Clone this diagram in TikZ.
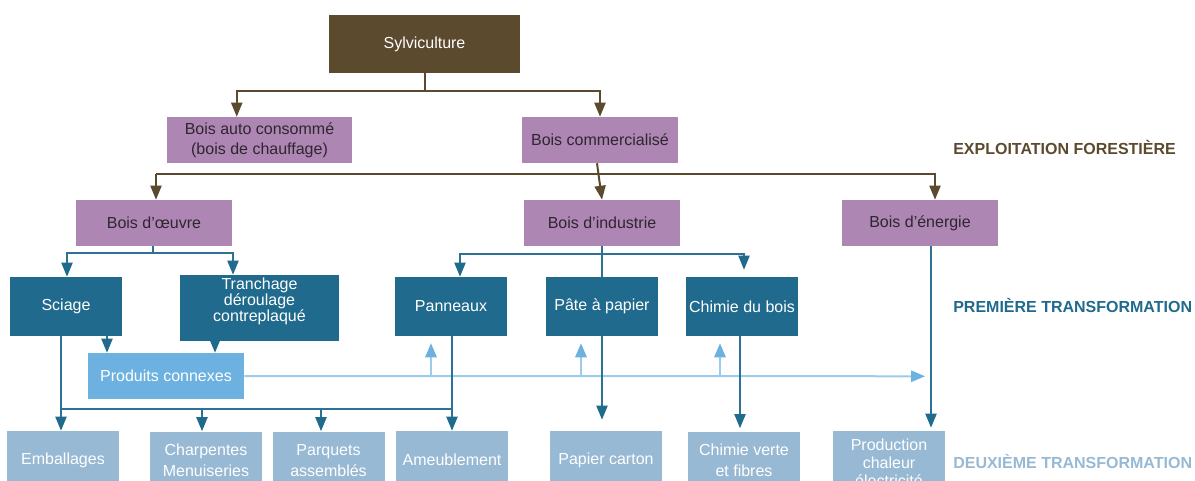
\documentclass[tikz,border=0pt]{standalone}
\usepackage{fontspec}
\setmainfont{Liberation Sans}
\usetikzlibrary{arrows.meta,calc}
\definecolor{brownc}{HTML}{5C4A2E}
\definecolor{purp}{HTML}{AE86B3}
\definecolor{ptext}{HTML}{2E2630}
\definecolor{tealc}{HTML}{1F6A8D}
\definecolor{tealline}{HTML}{2E7196}
\definecolor{lblue}{HTML}{6DB1E0}
\definecolor{lbline}{HTML}{9CCBEB}
\definecolor{bottomc}{HTML}{97B9D4}
\begin{document}
\begin{tikzpicture}[x=0.75pt,y=-0.75pt,
  every node/.style={font=\fontsize{12}{14}\selectfont, align=center, inner sep=0pt},
  brbox/.style={fill=brownc, text=white, minimum width=143.25pt, minimum height=43.5pt},
  pbox/.style={fill=purp, text=ptext, minimum width=117pt, minimum height=34.5pt},
  tbox/.style={fill=tealc, text=white, minimum width=84pt, minimum height=44.25pt},
  lbox/.style={fill=lblue, text=white, minimum width=117pt, minimum height=34.5pt},
  bbox/.style={fill=bottomc, text=white, minimum width=84pt, minimum height=43.5pt},
  brl/.style={draw=brownc, line width=1.5pt},
  brla/.style={brl, -{Triangle[length=10.5pt,width=8.25pt]}},
  tl/.style={draw=tealline, line width=1.5pt},
  tla/.style={tl, -{Triangle[length=10.5pt,width=8.25pt,color=tealc]}},
  lbl/.style={draw=lbline, line width=1.5pt},
  lba/.style={lbl, -{Triangle[length=10.5pt,width=8.5pt,color=lblue]}},
  lab/.style={font=\fontsize{12}{14}\selectfont\bfseries, anchor=west}
]
\useasboundingbox (0,0) rectangle (1195,481);

% nodes
\node[brbox] (syl) at (424.5,44) {Sylviculture};
\node[pbox, minimum width=138.75pt, font=\fontsize{12}{15}\selectfont] (auto) at (259.5,140) {Bois auto consommé\\(bois de chauffage)};
\node[pbox] (comm) at (600,140) {Bois commercialisé};
\node[pbox] (oeuvre) at (154,223) {Bois d’œuvre};
\node[pbox] (indus) at (602,223) {Bois d’industrie};
\node[pbox] (energ) at (920,223) {Bois d’énergie};

\node[tbox] (sciage) at (66,306.5) {Sciage};
\node[tbox, minimum width=119.25pt, minimum height=49.5pt] (tranch) at (259.5,308) {};
\node[text=white, font=\fontsize{12}{12}\selectfont] (tranchtxt) at (259.5,301) {Tranchage\\déroulage\\contreplaqué};
\node[tbox] (pann) at (451,306.5) {Panneaux};
\node[tbox] (pate) at (602,306.5) {Pâte à papier};
\node[tbox] (chim) at (742,306.5) {Chimie du bois};

\node[lbox] (prod) at (166,376) {Produits connexes};

\node[bbox] (emb) at (63,460) {Emballages};
\node[bbox, font=\fontsize{12}{15.75}\selectfont] (charp) at (206,460.5) {Charpentes\\Menuiseries};
\node[bbox, font=\fontsize{12}{15.75}\selectfont] (parq) at (328.5,460.5) {Parquets\\assemblés};
\node[bbox] (ameub) at (452,460) {Ameublement};
\node[bbox] (papier) at (606,460) {Papier carton};
\node[bbox, font=\fontsize{12}{15.75}\selectfont] (chverte) at (744,460.5) {Chimie verte\\et fibres};
\node[bbox] (product) at (889,460) {};
\node[text=white, font=\fontsize{12}{13.5}\selectfont] (producttxt) at (889,463) {Production\\chaleur\\électricité};

\node[lab, text=brownc] (lab1) at (953,147) {EXPLOITATION FORESTIÈRE};
\node[lab, text=tealc] (lab2) at (953,305) {PREMIÈRE TRANSFORMATION};
\node[lab, text=bottomc] (lab3) at (953,461) {DEUXIÈME TRANSFORMATION};

% brown connectors
\coordinate (bj) at ($(syl.south)+(0,18)$);
\draw[brl] (syl.south) -- (bj);
\draw[brla] (bj) -| ($(auto.north west)+(70,0)$);
\draw[brla] (bj) -| (comm.north);
\coordinate (hl) at ($(oeuvre.north)+(2,-26)$);
\coordinate (hr) at ($(energ.north)+(15,-26)$);
\draw[brla] (hl) -- (hl |- oeuvre.north);
\draw[brla] (hl) -- (hr) -- (hr |- energ.north);
\draw[brla] ($(comm.south)+(-3,0)$) -- (indus.north);

% light blue connectors (under teal)
\draw[lba] (prod.east) -- ($(energ.south)+(5,130)$);
\coordinate (u1) at ($(pann.south)+(-20,7)$);
\coordinate (u2) at ($(pate.south)+(-21,7)$);
\coordinate (u3) at ($(chim.south)+(-22,7)$);
\draw[lba] (u1 |- prod.east) -- (u1);
\draw[lba] (u2 |- prod.east) -- (u2);
\draw[lba] (u3 |- prod.east) -- (u3);

% teal connectors
\coordinate (oj) at ($(oeuvre.south)+(-1,7)$);
\draw[tl] (oeuvre.south -| oj) -- (oj);
\draw[tla] (oj) -| ($(sciage.north)+(1,0)$);
\draw[tla] (oj) -| ($(tranch.north)+(-26.5,0)$);

\coordinate (ij) at ($(indus.south)+(0,8)$);
\draw[tl] (indus.south) -- (pate.north);
\draw[tla] (ij) -| ($(pann.north)+(9,0)$);
\draw[tla] (ij) -| ($(chim.north)+(2,-7)$);

\coordinate (s1) at ($(sciage.south)+(41,0)$);
\draw[tla] (s1) -- (s1 |- prod.north);
\coordinate (t1) at ($(tranch.south)+(-44.5,0)$);
\draw[tla] (t1) -- (t1 |- prod.north);

\coordinate (s2) at ($(sciage.south)+(-5,0)$);
\coordinate (hb) at ($(s2)+(0,73)$);
\coordinate (p2) at ($(pann.south)+(1,0)$);
\draw[tl] (hb) -- (hb -| p2);
\draw[tla] (s2) -- (s2 |- emb.north);
\draw[tla] (p2) -- (p2 |- ameub.north);
\coordinate (c1) at ($(charp.north)+(-4,0)$);
\coordinate (c2) at ($(parq.north)+(-7.5,0)$);
\draw[tla] (c1 |- hb) -- (c1);
\draw[tla] (c2 |- hb) -- (c2);

\coordinate (pc) at ($(papier.north)+(-4,-11)$);
\draw[tla] (pate.south) -- (pate.south |- pc);
\draw[tla] ($(chim.south)+(-2,0)$) -- ($(chverte.north)+(-4,-3)$);
\draw[tla] ($(energ.south)+(11,0)$) -- ($(product.north)+(42,-3)$);
\end{tikzpicture}
\end{document}
